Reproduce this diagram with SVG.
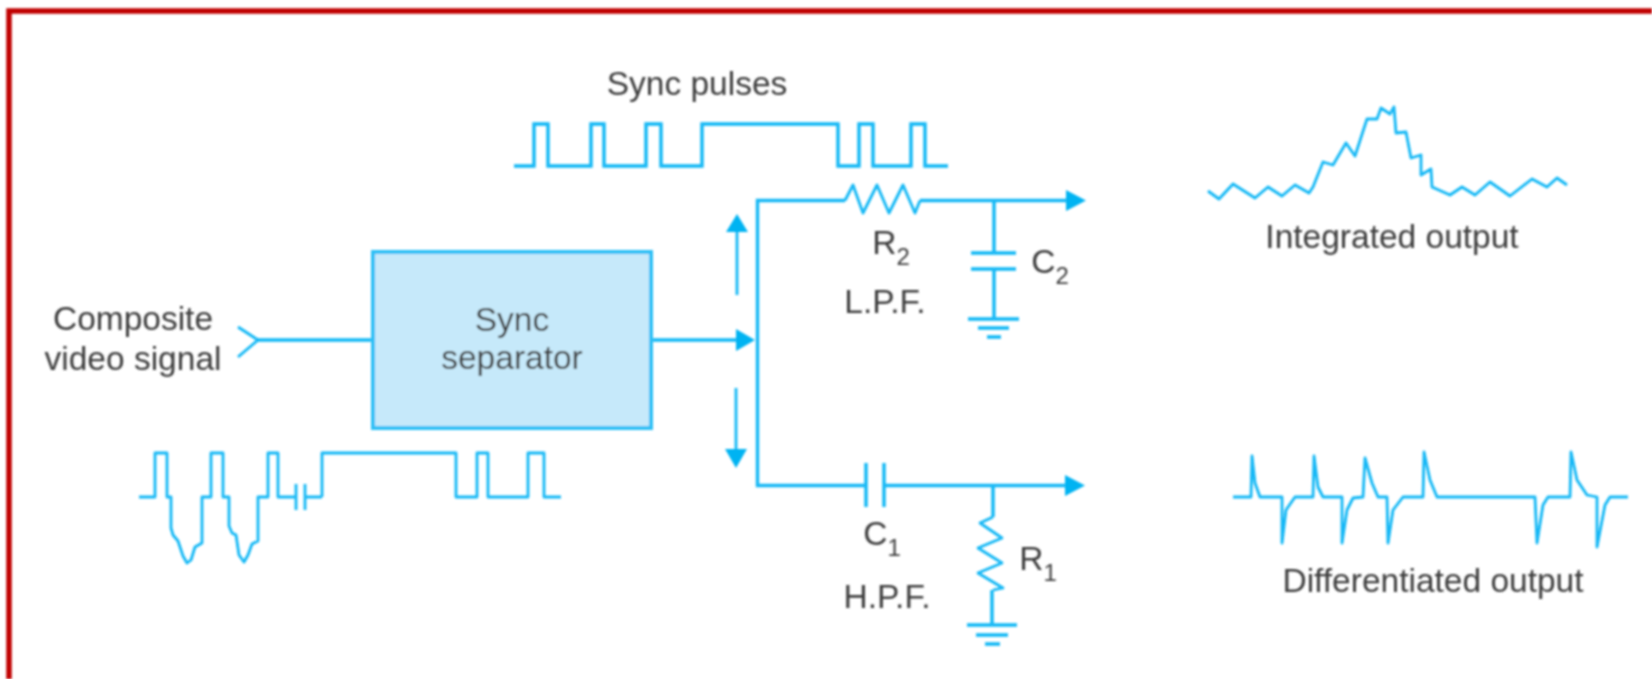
<svg xmlns="http://www.w3.org/2000/svg" width="1652" height="679" viewBox="0 0 1652 679">
<defs><filter id="soft" x="-5%" y="-5%" width="110%" height="110%"><feGaussianBlur stdDeviation="1"/></filter></defs>
<style>
.w{fill:none;stroke:#12b7f5;stroke-width:3.4;stroke-linejoin:miter}
.s{fill:none;stroke:#12b7f5;stroke-width:2.8;stroke-linejoin:round}
.a{fill:#05b3f2;stroke:none}
text{font-family:"Liberation Sans",Arial,sans-serif;font-size:33.5px;fill:#3c3c3c;text-anchor:middle}
.sub{font-size:24px}
</style>
<rect width="1652" height="679" fill="#fff"/>
<g filter="url(#soft)">
<path id="border" d="M1652 11H9V679" fill="none" stroke="#c00000" stroke-width="5.5"/>
<g id="connectors">
<path class="w" d="M258 340H372"/>
<path class="s" d="M238 327L258 340L238 357"/>
<path class="w" d="M652 340H738"/><path class="a" d="M736 329L755 340L736 351Z"/>
<path class="s" d="M737 295V230"/><path class="a" d="M726 232L737 214L748 232Z"/>
<path class="s" d="M736 388V450"/><path class="a" d="M725 449L747 449L736 468Z"/>
<path class="w" d="M1067 200.500H920M845 200.500H757.500V485.500H866"/>
<path class="s" d="M920 200.500L915 213L903 185L889 213L877 185L863 213L853 185L845 200.500"/>
<path class="a" d="M1066 190L1086 200.500L1066 211Z"/>
<path class="w" d="M884 485.500H1068"/><path class="a" d="M1065 475L1085 485.500L1065 496Z"/>
</g>
<g id="block">
<rect x="373" y="252" width="278" height="176" fill="#c6e9fa" stroke="#2fc0f6" stroke-width="4"/>
<text x="512" y="331">Sync</text><text x="512" y="369">separator</text>
</g>
<g id="input-label"><text x="133" y="330">Composite</text><text x="133" y="370">video signal</text></g>
<g id="input-waveform"><path class="s" d="M139 497H155V453H167V497H171V528L173 535L178 541L183 556L187 563L191 560L195 547L202 543V497H211V453H223V497H229V526L232 533L236 535L239 555L244 562L248 555L252 544L258 541V497H268V453H278V497H295M322 497V453H456V497H477V453H488V497H528V453H544V497H561"/><path class="s" d="M296 484V510M305 484V510M305 497H322"/></g>
<g id="sync-pulses"><text x="697" y="95">Sync pulses</text><path class="w" d="M514 166H534V124H548V166H591V124H604V166H646V124H661V166H702V124H838V166H859V124H873V166H911V124H925V166H948"/></g>
<g id="r2-c2"><text x="891" y="254">R<tspan class="sub" dy="11">2</tspan></text><text x="885" y="313">L.P.F.</text><text x="1050" y="273">C<tspan class="sub" dy="11">2</tspan></text>
<path class="w" d="M994 201V253M971 253H1016M971 269H1016M994 269V319M968 319H1019M978 328H1009M987 337H1001"/></g>
<g id="c1-r1"><text x="882" y="545">C<tspan class="sub" dy="11">1</tspan></text><text x="887" y="608">H.P.F.</text><text x="1038" y="570">R<tspan class="sub" dy="11">1</tspan></text>
<path class="w" d="M866 463V507M884 463V507M993 486V517M992 590V625M967 625H1017M976 635H1008M985 644H1000"/>
<path class="s" d="M993 517L980 523L1002 538L978 548L1002 563L978 573L1003 588L993 590"/></g>
<g id="integrated"><path class="s" d="M1208 191L1219 199L1233 184L1255 198L1268 187L1282 196L1295 185L1309 193L1313 187L1323 162L1333 165L1346 143L1355 156L1367 119L1377 119L1381 108L1390 114L1394 107L1396 133L1406 132L1411 158L1421 155L1421 175L1431 169L1432 187L1450 195L1462 187L1475 195L1490 182L1510 196L1532 179L1547 187L1557 178L1567 185"/><text x="1392" y="248">Integrated output</text></g>
<g id="differentiated"><path class="s" d="M1233 497H1251L1252 456L1255 483L1260 497H1282L1282 543L1286 510L1295 497H1313L1314 456L1318 487L1323 497H1342L1342 543L1347 510L1353 498L1363 497L1365 458L1372 483L1378 497H1387L1388 543L1393 510L1403 497H1423L1424 452L1430 480L1437 497H1535L1537 543L1543 505L1548 497H1570L1571 452L1577 480L1587 495L1597 497L1597 547L1605 505L1610 497H1628"/><text x="1433" y="592">Differentiated output</text></g>
</g>
</svg>
